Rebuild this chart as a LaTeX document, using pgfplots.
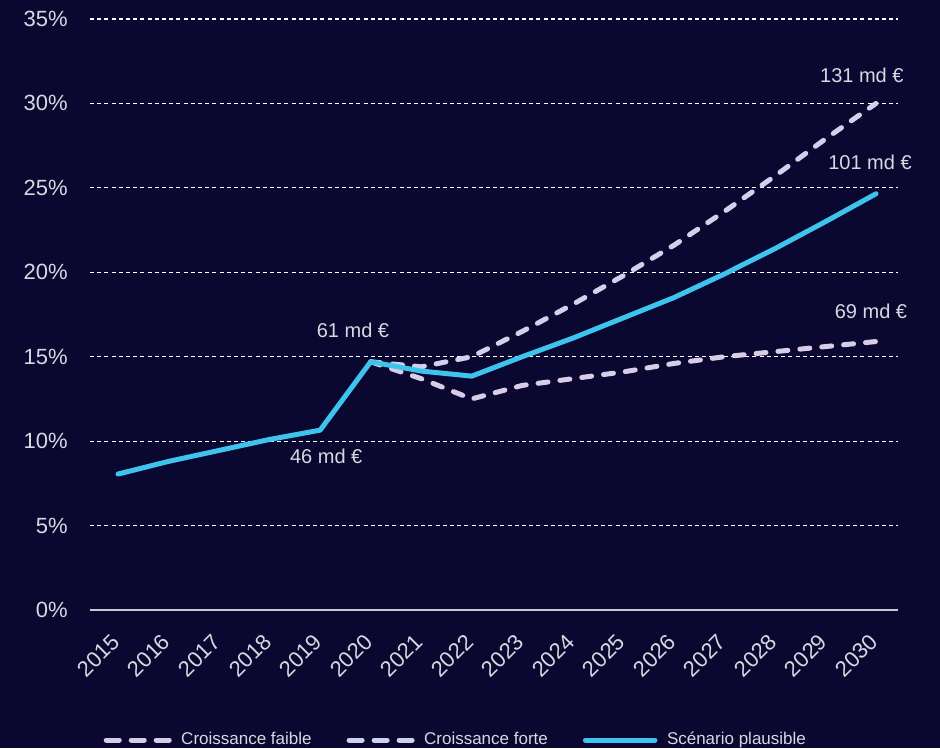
\documentclass[border=0pt]{standalone}
\usepackage{pgfplots}
\pgfplotsset{compat=1.18}
\usepackage{fontspec}
\setmainfont{Liberation Sans}
\definecolor{bgc}{HTML}{0A0830}
\definecolor{txt}{HTML}{D8D8E0}
\definecolor{faible}{HTML}{D9CCE6}
\definecolor{forte}{HTML}{CED2EA}
\definecolor{plaus}{HTML}{3EC3EC}
\definecolor{axisc}{HTML}{C8C8D0}
\pgfplotsset{
  dashleg/.style={legend image code/.code={\draw[##1, dash pattern=on 6.5pt off 6pt] (1.25pt,0pt) -- (32.75pt,0pt); \path (35.5pt,0pt);}},
  solidleg/.style={legend image code/.code={\draw[##1] (1.25pt,0pt) -- (36pt,0pt); \path (38.8pt,0pt);}},
}
\begin{document}
\begin{tikzpicture}
\path[use as bounding box] (-45pt,-69pt) rectangle (425pt,305pt);
\fill[bgc] (-45pt,-69pt) rectangle (425pt,305pt);
\begin{axis}[
  scale only axis,
  width=404pt, height=295.5pt,
  xmin=-0.554, xmax=15.435,
  ymin=0, ymax=35,
  axis x line*=bottom,
  axis y line*=left,
  x axis line style={-, draw=axisc, line width=1.2pt},
  y axis line style={draw=none},
  major tick length=0pt,
  xtick={0,...,15},
  xticklabels={2015,2016,2017,2018,2019,2020,2021,2022,2023,2024,2025,2026,2027,2028,2029,2030},
  ytick={0,5,...,35},
  yticklabels={0\%,5\%,10\%,15\%,20\%,25\%,30\%,35\%},
  ymajorgrids,
  grid style={white, line width=0.6pt, dash pattern=on 2pt off 1.6pt},
  yticklabel style={font=\fontsize{11}{13}\selectfont, text=txt, anchor=east, inner sep=0pt, xshift=-11pt},
  xticklabel style={yshift=-14pt, xshift=-1pt, rotate=45, anchor=east, inner sep=0pt, font=\fontsize{11}{13}\selectfont, text=txt},
  legend columns=3,
  legend style={at={(axis description cs:0.454,-0.22)}, anchor=center, draw=none, fill=none,
    font=\fontsize{8.5}{10}\selectfont, text=txt,
    /tikz/every even column/.append style={column sep=15.5pt}},
  clip=false,
]
\addplot[faible, line width=2.5pt, line cap=round, dash pattern=on 5pt off 6pt, dashleg] coordinates {
(5,14.7) (6,13.7) (7,12.5) (8,13.3) (9,13.7) (10,14.1) (11,14.6) (12,15.0) (13,15.3) (14,15.6) (15,15.9)};
\addlegendentry{Croissance faible}
\addplot[forte, line width=2.5pt, line cap=round, dash pattern=on 5pt off 6pt, dashleg] coordinates {
(5,14.7) (6,14.4) (7,15.0) (8,16.5) (9,18.1) (10,19.8) (11,21.6) (12,23.6) (13,25.7) (14,27.9) (15,30.0)};
\addlegendentry{Croissance forte}
\addplot[plaus, line width=2.5pt, line cap=round, line join=round, solidleg] coordinates {
(0,8.05) (1,8.8) (2,9.45) (3,10.1) (4,10.65) (5,14.7) (6,14.15) (7,13.85) (8,15.0) (9,16.1) (10,17.3) (11,18.5) (12,19.9) (13,21.4) (14,23.0) (15,24.65)};
\addlegendentry{Scénario plausible}
\node[text=txt, font=\fontsize{10}{12}\selectfont] at (axis cs:4.65,16.58) {61 md €};
\node[text=txt, font=\fontsize{10}{12}\selectfont] at (axis cs:4.12,9.1) {46 md €};
\node[text=txt, font=\fontsize{10}{12}\selectfont] at (axis cs:14.72,31.68) {131 md €};
\node[text=txt, font=\fontsize{10}{12}\selectfont] at (axis cs:14.88,26.5) {101 md €};
\node[text=txt, font=\fontsize{10}{12}\selectfont] at (axis cs:14.9,17.71) {69 md €};
\end{axis}
\end{tikzpicture}
\end{document}
